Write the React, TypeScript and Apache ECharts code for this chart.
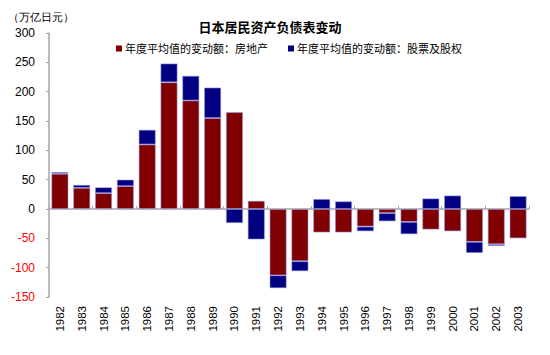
import React, { useEffect, useRef } from "react";
import * as echarts from "echarts";

const years = ["1982","1983","1984","1985","1986","1987","1988","1989","1990","1991","1992","1993","1994","1995","1996","1997","1998","1999","2000","2001","2002","2003"];
const realEstate = [60, 36, 27, 39, 110, 216, 185, 155, 165, 14, -113, -89, -40, -40, -30, -7, -22, -35, -38, -56, -60, -50];
const equities = [3, 5, 10, 11, 25, 32, 42, 52, -24, -52, -22, -17, 17, 13, -8, -14, -21, 18, 23, -19, -3, 22];
const seriesNames = ["年度平均值的变动额：房地产", "年度平均值的变动额：股票及股权"];
const FONT = "'Liberation Sans', Arial, 'Noto Sans CJK SC', sans-serif";

export default function App() {
  const ref = useRef<HTMLDivElement>(null);
  useEffect(() => {
    document.body.style.margin = "0";
    const chart = echarts.init(ref.current!, null, { renderer: "svg" });
    const barStyle = (c: string) => ({ color: c, borderColor: "rgba(150,150,235,0.7)", borderWidth: 0.8 });
    chart.setOption({
      animation: false,
      textStyle: { fontFamily: FONT },
      title: {
        text: "日本居民资产负债表变动",
        left: 265,
        textAlign: "center",
        top: 16,
        textStyle: { fontSize: 13, fontWeight: "bold", color: "#000", fontFamily: FONT },
      },
      graphic: [
        { type: "text", left: 8, top: 11, style: { text: "（万亿日元）", fontSize: 11, fill: "#000", font: "11px 'Noto Sans CJK SC', sans-serif" } },
      ],
      legend: {
        top: 38,
        left: 111,
        itemWidth: 6,
        itemHeight: 6,
        itemGap: 20,
        icon: "rect",
        itemStyle: { borderWidth: 0 },
        textStyle: { fontSize: 11, color: "#000", fontFamily: FONT, padding: [0, 0, 0, -2] },
        data: seriesNames,
      },
      grid: { left: 49, right: 21, top: 33, bottom: 58 },
      xAxis: [
        {
          type: "category",
          data: years,
          position: "bottom",
          axisLine: { show: false, onZero: false },
          axisTick: { show: false },
          axisLabel: { rotate: 90, fontSize: 11.5, color: "#000", margin: 9, fontFamily: FONT },
        },
        {
          type: "category",
          data: years,
          position: "top",
          axisLine: { show: true, onZero: true, lineStyle: { color: "#a6a6a6", width: 1.5 } },
          axisTick: { show: true, length: 3, lineStyle: { color: "#a6a6a6" } },
          axisLabel: { show: false },
        },
      ],
      yAxis: {
        type: "value",
        min: -150,
        max: 300,
        interval: 50,
        splitLine: { show: false },
        axisLine: { show: true, lineStyle: { color: "#a6a6a6", width: 1.5 } },
        axisTick: { show: true, length: 3, lineStyle: { color: "#a6a6a6" } },
        axisLabel: {
          fontSize: 12,
          margin: 14,
          fontFamily: FONT,
          color: (v: any) => (Number(v) < 0 ? "#ff0000" : "#000"),
        },
      },
      series: [
        { name: seriesNames[0], type: "bar", stack: "a", barWidth: 17, data: realEstate, itemStyle: barStyle("#800000") },
        { name: seriesNames[1], type: "bar", stack: "a", barWidth: 17, data: equities, itemStyle: barStyle("#000080") },
      ],
    });
    return () => chart.dispose();
  }, []);
  return <div ref={ref} style={{ width: 550, height: 355 }} />;
}
